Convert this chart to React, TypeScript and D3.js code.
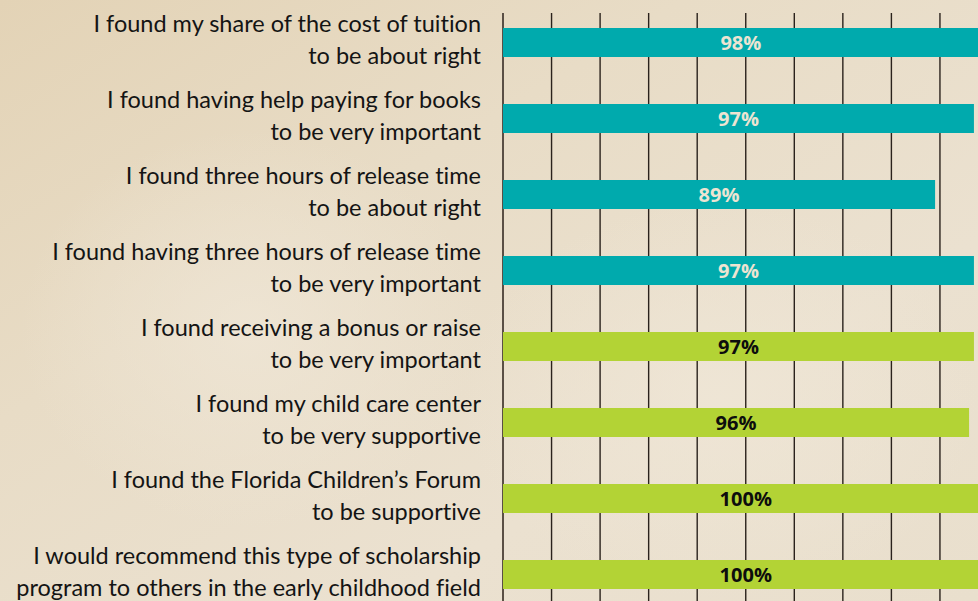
import React, { useEffect } from "react";
import * as d3 from "d3";

const categories: string[][] = [
  ["I found my share of the cost of tuition", "to be about right"],
  ["I found having help paying for books", "to be very important"],
  ["I found three hours of release time", "to be about right"],
  ["I found having three hours of release time", "to be very important"],
  ["I found receiving a bonus or raise", "to be very important"],
  ["I found my child care center", "to be very supportive"],
  ["I found the Florida Children\u2019s Forum", "to be supportive"],
  ["I would recommend this type of scholarship", "program to others in the early childhood field"],
];
const values: number[] = [98, 97, 89, 97, 97, 96, 100, 100];
const groups: string[] = ["cost", "cost", "cost", "cost", "support", "support", "support", "support"];
const groupNames = ["cost", "support"];

const W = 978;
const H = 601;

export default function App() {
  useEffect(() => {
    document.body.style.margin = "0";
    document.body.style.overflow = "hidden";
  }, []);

  const idx = values.map((_, i) => String(i));
  const x = d3.scaleLinear().domain([0, 100]).range([503, 988.5]);
  const y = d3.scaleBand<string>().domain(idx).range([28, 589]).paddingInner(0.6184).paddingOuter(0);
  const fill = d3.scaleOrdinal<string, string>().domain(groupNames).range(["#00aaad", "#b3d335"]);
  const textFill = d3.scaleOrdinal<string, string>().domain(groupNames).range(["#ede4d2", "#0d0d0d"]);
  const ticks = x.ticks(10).filter((t) => t < 100);
  const bw = y.bandwidth();

  return (
    <svg width={W} height={H} style={{ position: "absolute", left: 0, top: 0, display: "block" }}>
      <defs>
        <linearGradient id="bg" x1="0" y1="0" x2="1" y2="1">
          <stop offset="0" stopColor="#e3d3b6" />
          <stop offset="0.35" stopColor="#e8dcc6" />
          <stop offset="0.7" stopColor="#ebe1d0" />
          <stop offset="1" stopColor="#e9dfcd" />
        </linearGradient>
        <radialGradient id="blob" cx="0.5" cy="0.5" r="0.5">
          <stop offset="0" stopColor="#efe6d6" stopOpacity="0.8" />
          <stop offset="1" stopColor="#efe6d6" stopOpacity="0" />
        </radialGradient>
      </defs>
      <rect x={0} y={0} width={W} height={H} fill="url(#bg)" />
      <ellipse cx={250} cy={330} rx={230} ry={200} fill="url(#blob)" />
      <ellipse cx={720} cy={400} rx={260} ry={200} fill="url(#blob)" />
      <g>
        {ticks.map((t) => (
          <line
            key={t}
            x1={x(t)}
            x2={x(t)}
            y1={13}
            y2={H}
            stroke={t === 0 ? "#5a4f45" : "#2a221c"}
            strokeWidth={t === 0 ? 2 : 1.4}
          />
        ))}
      </g>
      <g>
        {values.map((v, i) => (
          <rect
            key={i}
            x={x(0)}
            y={y(String(i))}
            width={x(v) - x(0)}
            height={bw}
            fill={fill(groups[i])}
          />
        ))}
      </g>
      <g fontFamily="'Open Sans', sans-serif" fontWeight={700} fontSize={20} textAnchor="middle">
        {values.map((v, i) => (
          <text
            key={i}
            x={(x(0) + x(v)) / 2}
            y={(y(String(i)) as number) + bw / 2 + 7.2}
            fill={textFill(groups[i])}
          >
            {v}%
          </text>
        ))}
      </g>
      <g
        fontFamily="Lato, sans-serif"
        fontSize={23.5}
        textAnchor="end"
        fill="#141414"
        style={{ fontVariantLigatures: "none", fontFeatureSettings: "'liga' 0" }}
      >
        {categories.map((lines, i) => (
          <text key={i} x={481} y={(y(String(i)) as number) + 3.8}>
            {lines.map((ln, j) => (
              <tspan key={j} x={481} dy={j === 0 ? 0 : 32.5}>
                {ln}
              </tspan>
            ))}
          </text>
        ))}
      </g>
    </svg>
  );
}
